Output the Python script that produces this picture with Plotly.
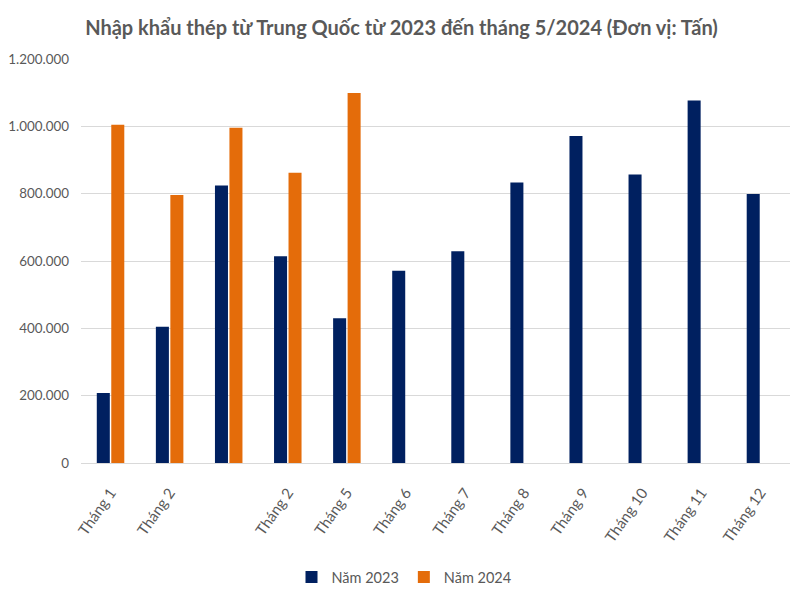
import plotly.graph_objects as go

# Data
tick_labels = ["Tháng 1", "Tháng 2", "", "Tháng 2", "Tháng 5", "Tháng 6",
               "Tháng 7", "Tháng 8", "Tháng 9", "Tháng 10", "Tháng 11", "Tháng 12"]
positions = list(range(12))
values_2023 = [208000, 405000, 824000, 614000, 430000, 571000,
               629000, 833000, 971000, 857000, 1077000, 799000]
values_2024 = [1005000, 796000, 996000, 862000, 1099000, None,
               None, None, None, None, None, None]
series_names = ["Năm 2023", "Năm 2024"]
y_ticks = [0, 200000, 400000, 600000, 800000, 1000000, 1200000]
y_tick_text = ["0", "200.000", "400.000", "600.000", "800.000", "1.000.000", "1.200.000"]
title_text = "Nhập khẩu thép từ Trung Quốc từ 2023 đến tháng 5/2024 (Đơn vị: Tấn)"

FONT = "Lato, Roboto, sans-serif"
GRAY = "#595959"

fig = go.Figure()
fig.add_trace(go.Bar(x=positions, y=values_2023, name=series_names[0],
                     marker=dict(color="#002060", line=dict(width=0))))
fig.add_trace(go.Bar(x=positions, y=values_2024, name=series_names[1],
                     marker=dict(color="#E46C0A", line=dict(width=0))))

# page body has an 8px default margin, so the figure is sized to fit the window
W, H = 792, 592
ML, MR, MT, MB = 73, 10, 51, 137
pw, ph = W - ML - MR, H - MT - MB

fig.update_layout(
    width=W, height=H,
    margin=dict(l=ML, r=MR, t=MT, b=MB, autoexpand=False),
    paper_bgcolor="white", plot_bgcolor="white",
    barmode="group", bargap=0.51, bargroupgap=0.1,
    font=dict(family=FONT, color=GRAY, size=14),
    title=dict(text="<b>" + title_text + "</b>", x=393.5 / W, xanchor="center",
               xref="container", y=1 - 20 / H, yanchor="middle", yref="container",
               font=dict(family=FONT, size=20, color=GRAY)),
    xaxis=dict(tickmode="array", tickvals=positions, ticktext=tick_labels,
               range=[-0.5, 11.5], tickangle=-55, showgrid=False,
               showline=True, linecolor="#D9D9D9", linewidth=1,
               ticks="", automargin=False, ticklabelstandoff=14,
               tickfont=dict(size=15, color=GRAY, family=FONT)),
    yaxis=dict(range=[0, 1200000], tickmode="array", tickvals=y_ticks,
               ticktext=y_tick_text, showgrid=True, gridcolor="#D9D9D9",
               gridwidth=1, zeroline=False, showline=False, ticks="",
               ticklabelstandoff=11, automargin=False,
               tickfont=dict(size=13.4, color=GRAY, family=FONT)),
    legend=dict(orientation="h", x=(396 - ML) / pw, xanchor="center",
                y=(455 - 569) / ph, yanchor="middle",
                font=dict(size=14.5, color=GRAY, family=FONT),
                itemwidth=30, traceorder="normal"),
)

fig.write_html("out.html")
